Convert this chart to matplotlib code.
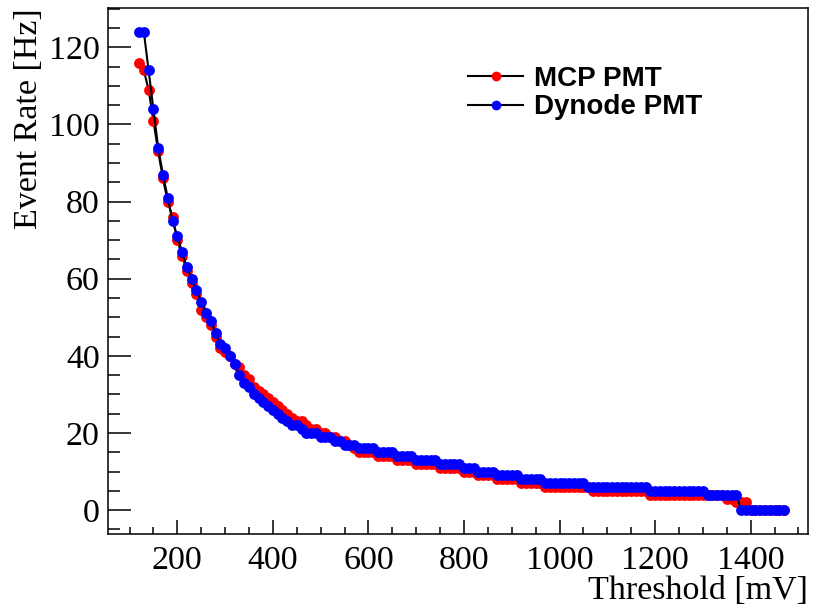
import matplotlib
matplotlib.use("Agg")
import matplotlib.pyplot as plt
from matplotlib.ticker import MultipleLocator

# Thresholds [mV]
thresholds = [120, 130, 140, 150, 160, 170, 180, 190, 200, 210,
              220, 230, 240, 250, 260, 270, 280, 290, 300, 310,
              320, 330, 340, 350, 360, 370, 380, 390, 400, 410,
              420, 430, 440, 450, 460, 470, 480, 490, 500, 510,
              520, 530, 540, 550, 560, 570, 580, 590, 600, 610,
              620, 630, 640, 650, 660, 670, 680, 690, 700, 710,
              720, 730, 740, 750, 760, 770, 780, 790, 800, 810,
              820, 830, 840, 850, 860, 870, 880, 890, 900, 910,
              920, 930, 940, 950, 960, 970, 980, 990, 1000, 1010,
              1020, 1030, 1040, 1050, 1060, 1070, 1080, 1090, 1100, 1110,
              1120, 1130, 1140, 1150, 1160, 1170, 1180, 1190, 1200, 1210,
              1220, 1230, 1240, 1250, 1260, 1270, 1280, 1290, 1300, 1310,
              1320, 1330, 1340, 1350, 1360, 1370, 1380, 1390, 1400, 1410,
              1420, 1430, 1440, 1450, 1460, 1470]

# Event rate [Hz], MCP PMT
mcp_rate = [116, 114, 109, 101, 93, 86, 80, 76, 70, 66,
            62, 59, 56, 52, 50, 48, 45, 42, 41, 40,
            38, 37, 35, 34, 32, 31, 30, 29, 28, 27,
            26, 25, 24, 23, 23, 22, 21, 21, 20, 20,
            19, 19, 18, 18, 17, 16, 15, 15, 15, 15,
            14, 14, 14, 14, 13, 13, 13, 13, 12, 12,
            12, 12, 12, 11, 11, 11, 11, 11, 10, 10,
            10, 9, 9, 9, 9, 8, 8, 8, 8, 8,
            7, 7, 7, 7, 7, 6, 6, 6, 6, 6,
            6, 6, 6, 6, 6, 5, 5, 5, 5, 5,
            5, 5, 5, 5, 5, 5, 5, 4, 4, 4,
            4, 4, 4, 4, 4, 4, 4, 4, 4, 4,
            4, 4, 4, 3, 3, 2, 2, 2, 0, 0,
            0, 0, 0, 0, 0, 0]

# Event rate [Hz], Dynode PMT
dynode_rate = [124, 124, 114, 104, 94, 87, 81, 75, 71, 67,
               63, 60, 57, 54, 51, 49, 46, 43, 42, 40,
               38, 35, 33, 32, 30, 29, 28, 27, 26, 25,
               24, 23, 22, 22, 21, 20, 20, 20, 19, 19,
               19, 18, 18, 17, 17, 17, 16, 16, 16, 16,
               15, 15, 15, 15, 14, 14, 14, 14, 13, 13,
               13, 13, 13, 12, 12, 12, 12, 12, 11, 11,
               11, 10, 10, 10, 10, 9, 9, 9, 9, 9,
               8, 8, 8, 8, 8, 7, 7, 7, 7, 7,
               7, 7, 7, 7, 6, 6, 6, 6, 6, 6,
               6, 6, 6, 6, 6, 6, 6, 5, 5, 5,
               5, 5, 5, 5, 5, 5, 5, 5, 5, 4,
               4, 4, 4, 4, 4, 4, 0, 0, 0, 0,
               0, 0, 0, 0, 0, 0]

series_labels = ["MCP PMT", "Dynode PMT"]
x_ticks = [200, 400, 600, 800, 1000, 1200, 1400]
y_ticks = [0, 20, 40, 60, 80, 100, 120]

W, H = 817, 606
fig = plt.figure(figsize=(W / 100, H / 100), dpi=100)
ax = fig.add_axes([108 / W, 1 - 534 / H, (808 - 108) / W, (534 - 8) / H])

serif = "Liberation Serif"
ms = 7.8
ax.plot(thresholds, mcp_rate, color="black", lw=1.5, marker="o", ms=ms,
        mfc="#ff0000", mec="#ff0000", mew=0, label=series_labels[0], zorder=2)
ax.plot(thresholds, dynode_rate, color="black", lw=1.5, marker="o", ms=ms,
        mfc="#0000ff", mec="#0000ff", mew=0, label=series_labels[1], zorder=3)

ax.set_xlim(55, 1520)
ax.set_ylim(-6.2, 130.2)
ax.set_xticks(x_ticks)
ax.set_yticks(y_ticks)
ax.xaxis.set_minor_locator(MultipleLocator(50))
ax.yaxis.set_minor_locator(MultipleLocator(5))

ax.tick_params(axis="both", which="both", direction="in", width=1.1,
               top=False, right=False, labelsize=24.5, color="black")
ax.tick_params(axis="x", which="major", length=10, pad=8)
ax.tick_params(axis="x", which="minor", length=5)
ax.tick_params(axis="y", which="major", length=16.5, pad=6)
ax.tick_params(axis="y", which="minor", length=8.5)
for lab in ax.get_xticklabels() + ax.get_yticklabels():
    lab.set_fontfamily(serif)
for sp in ax.spines.values():
    sp.set_linewidth(1.1)

fig.text(808 / W, 1 - 599 / H, "Threshold [mV]", ha="right", va="baseline",
         fontsize=24.5, family=serif)
fig.text(37 / W, 1 - 8 / H, "Event Rate [Hz]", rotation=90, rotation_mode="anchor",
         ha="right", va="baseline", fontsize=24.5, family=serif)

leg = ax.legend(loc="upper left", bbox_to_anchor=(468 / W, 1 - 66 / H),
                bbox_transform=fig.transFigure, frameon=False,
                prop={"family": "Liberation Sans", "weight": "bold", "size": 20},
                handlelength=1.98, handletextpad=0.4, labelspacing=0.08,
                borderpad=0, borderaxespad=0, numpoints=1, markerscale=0.9)

fig.savefig("out.png", dpi=100)
